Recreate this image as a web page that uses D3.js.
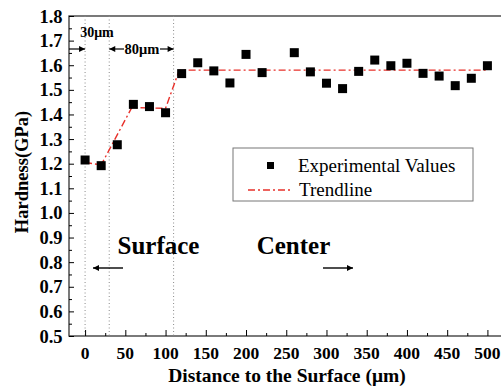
<!DOCTYPE html>
<html>
<head>
<meta charset="utf-8">
<script src="https://cdn.jsdelivr.net/npm/d3@7"></script>
<style>
  body { margin: 0; background: #fff; }
  svg { display: block; font-family: "Liberation Serif", "Times New Roman", serif; }
</style>
</head>
<body>
<svg id="chart" width="501" height="387"></svg>
<script>
// measured hardness along the depth
var distances = [0, 20, 40, 60, 80, 100, 120, 140, 160, 180, 200, 220, 260, 280, 300,
                 320, 340, 360, 380, 400, 420, 440, 460, 480, 500];
var hardness = [1.215, 1.192, 1.277, 1.441, 1.432, 1.407, 1.566, 1.610, 1.577, 1.528, 1.644, 1.570, 1.651, 1.573, 1.527,
                1.505, 1.575, 1.621, 1.598, 1.608, 1.567, 1.556, 1.517, 1.547, 1.598];
// piecewise trendline
var trendX = [0, 20, 58, 100, 117, 500];
var trendY = [1.205, 1.195, 1.428, 1.425, 1.58, 1.58];
// zone boundaries (dotted lines)
var zoneLines = [0, 30, 110];
var xTicks = [0, 50, 100, 150, 200, 250, 300, 350, 400, 450, 500];
var yTicks = [0.5, 0.6, 0.7, 0.8, 0.9, 1.0, 1.1, 1.2, 1.3, 1.4, 1.5, 1.6, 1.7, 1.8];

var svg = d3.select("#chart");
// plot box (note: "top" is a reserved window prop, so use pT etc.)
var pL = 69, pT = 16, pR = 503.5, pB = 336;

var x = d3.scaleLinear().domain([-20, 520]).range([pL, pR]);
var y = d3.scaleLinear().domain([0.5, 1.8]).range([pB, pT]);

var defs = svg.append("defs");
defs.append("marker")
    .attr("id", "ah")
    .attr("viewBox", "0 0 10 10")
    .attr("refX", 10).attr("refY", 5)
    .attr("markerWidth", 9).attr("markerHeight", 6)
    .attr("markerUnits", "userSpaceOnUse")
    .attr("orient", "auto")
    .append("path")
    .attr("d", "M0,0L10,5L0,10z")
    .attr("fill", "#000");

// frame
svg.append("rect")
    .attr("x", pL).attr("y", pT)
    .attr("width", pR - pL).attr("height", pB - pT)
    .attr("fill", "none").attr("stroke", "#333").attr("stroke-width", 1.3);

// dotted zone lines
svg.selectAll(".zone").data(zoneLines).enter().append("line")
    .attr("class", "zone")
    .attr("x1", function (d) { return x(d); })
    .attr("x2", function (d) { return x(d); })
    .attr("y1", pT).attr("y2", pB)
    .attr("stroke", "#8a8a8a").attr("stroke-width", 1)
    .attr("stroke-dasharray", "1,2.5");

// y axis ticks (inward), with minor ticks
svg.append("g").attr("transform", "translate(" + pL + ",0)")
    .call(d3.axisRight(y).tickValues(yTicks).tickSize(5).tickFormat(""))
    .call(function (g) { g.select(".domain").remove(); });
var yMinor = d3.range(0.55, 1.8, 0.1);
svg.append("g").attr("transform", "translate(" + pL + ",0)")
    .call(d3.axisRight(y).tickValues(yMinor).tickSize(3).tickFormat(""))
    .call(function (g) { g.select(".domain").remove(); });

svg.selectAll(".ylab").data(yTicks).enter().append("text")
    .attr("x", pL - 6.5)
    .attr("y", function (d) { return y(d) + 6.5; })
    .attr("text-anchor", "end")
    .attr("font-size", 18.5).attr("font-weight", "bold")
    .text(function (d) { return d3.format(".1f")(d); });

// x axis ticks (inward)
svg.append("g").attr("transform", "translate(0," + pB + ")")
    .call(d3.axisTop(x).tickValues(xTicks).tickSize(6).tickFormat(""))
    .call(function (g) { g.select(".domain").remove(); });
var xMinor = d3.range(25, 525, 50);
svg.append("g").attr("transform", "translate(0," + pB + ")")
    .call(d3.axisTop(x).tickValues(xMinor).tickSize(3).tickFormat(""))
    .call(function (g) { g.select(".domain").remove(); });

svg.selectAll(".xlab").data(xTicks).enter().append("text")
    .attr("x", function (d) { return x(d); })
    .attr("y", 358.5)
    .attr("text-anchor", "middle")
    .attr("font-size", 17.5).attr("font-weight", "bold")
    .text(function (d) { return d; });

// axis titles
svg.append("text")
    .attr("x", 287).attr("y", 381.5)
    .attr("text-anchor", "middle")
    .attr("font-size", 19.5).attr("font-weight", "bold")
    .text("Distance to the Surface (\u03bcm)");
svg.append("text")
    .attr("transform", "translate(28,172) rotate(-90)")
    .attr("text-anchor", "middle")
    .attr("font-size", 18.5).attr("font-weight", "bold")
    .text("Hardness(GPa)");

// trendline
var trend = d3.zip(trendX, trendY);
svg.append("path")
    .datum(trend)
    .attr("d", d3.line().x(function (d) { return x(d[0]); }).y(function (d) { return y(d[1]); }))
    .attr("fill", "none").attr("stroke", "#e8302a").attr("stroke-width", 1.4)
    .attr("stroke-dasharray", "7,3,2,3");

// experimental points
svg.selectAll(".pt").data(d3.zip(distances, hardness)).enter().append("rect")
    .attr("class", "pt")
    .attr("x", function (d) { return x(d[0]) - 4.5; })
    .attr("y", function (d) { return y(d[1]) - 4.5; })
    .attr("width", 9).attr("height", 9)
    .attr("fill", "#000");

// annotations: 30um / 80um
svg.append("text")
    .attr("x", 97).attr("y", 37)
    .attr("text-anchor", "middle")
    .attr("font-size", 14).attr("font-weight", "bold")
    .text("30\u03bcm");
svg.append("line")
    .attr("x1", pL).attr("x2", x(0)).attr("y1", 49).attr("y2", 49)
    .attr("stroke", "#000").attr("stroke-width", 1.2).attr("marker-end", "url(#ah)");
svg.append("line")
    .attr("x1", 124).attr("x2", x(30)).attr("y1", 49).attr("y2", 49)
    .attr("stroke", "#000").attr("stroke-width", 1.2).attr("marker-end", "url(#ah)");
svg.append("line")
    .attr("x1", 160).attr("x2", x(110)).attr("y1", 49).attr("y2", 49)
    .attr("stroke", "#000").attr("stroke-width", 1.2).attr("marker-end", "url(#ah)");
svg.append("text")
    .attr("x", 142).attr("y", 54)
    .attr("text-anchor", "middle")
    .attr("font-size", 14.5).attr("font-weight", "bold")
    .text("80\u03bcm");

// Surface / Center
svg.append("text")
    .attr("x", 158.5).attr("y", 254)
    .attr("text-anchor", "middle")
    .attr("font-size", 25).attr("font-weight", "bold")
    .text("Surface");
svg.append("text")
    .attr("x", 293.5).attr("y", 254)
    .attr("text-anchor", "middle")
    .attr("font-size", 25).attr("font-weight", "bold")
    .text("Center");
svg.append("line")
    .attr("x1", 123).attr("x2", 93).attr("y1", 268).attr("y2", 268)
    .attr("stroke", "#000").attr("stroke-width", 1.4).attr("marker-end", "url(#ah)");
svg.append("line")
    .attr("x1", 323).attr("x2", 353).attr("y1", 268).attr("y2", 268)
    .attr("stroke", "#000").attr("stroke-width", 1.4).attr("marker-end", "url(#ah)");

// legend
var lg = svg.append("g").attr("transform", "translate(233,148)");
lg.append("rect")
    .attr("width", 240).attr("height", 53)
    .attr("fill", "#fff").attr("stroke", "#777").attr("stroke-width", 1);
lg.append("rect")
    .attr("x", 34).attr("y", 14).attr("width", 7).attr("height", 7).attr("fill", "#000");
lg.append("text")
    .attr("x", 65).attr("y", 24)
    .attr("font-size", 19)
    .text("Experimental Values");
lg.append("line")
    .attr("x1", 15).attr("x2", 60).attr("y1", 42).attr("y2", 42)
    .attr("stroke", "#e8302a").attr("stroke-width", 1.4).attr("stroke-dasharray", "7,3,2,3");
lg.append("text")
    .attr("x", 66).attr("y", 48)
    .attr("font-size", 19)
    .text("Trendline");
</script>
</body>
</html>
